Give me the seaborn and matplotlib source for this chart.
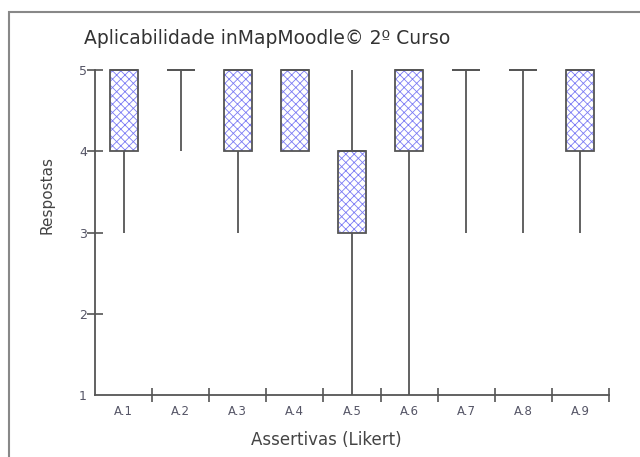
import numpy as np
import pandas as pd
import matplotlib
matplotlib.use("Agg")
import matplotlib.pyplot as plt
import seaborn as sns
from matplotlib.patches import PathPatch, Rectangle

# respostas Likert (1-5) por assertiva
assertivas = ["A.1", "A.2", "A.3", "A.4", "A.5", "A.6", "A.7", "A.8", "A.9"]
a1 = [3, 4, 4, 4, 5, 5, 5, 5, 5, 5]
a2 = [4, 5, 5, 5, 5, 5, 5, 5, 5, 5]
a3 = [3, 3, 4, 4, 5, 5, 5, 5, 5, 5]
a4 = [4, 4, 4, 4, 5, 5, 5, 5, 5, 5]
a5 = [1, 3, 3, 3, 4, 4, 4, 4, 4, 5]
a6 = [1, 4, 4, 4, 5, 5, 5, 5, 5, 5]
a7 = [3, 5, 5, 5, 5, 5, 5, 5, 5, 5]
a8 = [3, 4, 5, 5, 5, 5, 5, 5, 5, 5]
a9 = [3, 4, 4, 4, 5, 5, 5, 5, 5, 5]
respostas = [a1, a2, a3, a4, a5, a6, a7, a8, a9]
y_ticks = [1, 2, 3, 4, 5]

rows = []
for nome, vals in zip(assertivas, respostas):
    for v in vals:
        rows.append({"Assertiva": nome, "Resposta": v})
df = pd.DataFrame(rows)

sns.set_style("white")
plt.rcParams['font.family'] = ['DejaVu Sans']
plt.rcParams['hatch.linewidth'] = 0.6

edge = "#555555"
hatch_blue = "#7c7cf4"

fig = plt.figure(figsize=(6.4, 4.57), dpi=100)
ax = fig.add_axes([0.1484, 0.1357, 0.8031, 0.711])

# whis=(0, 100): bigodes do minimo ao maximo
sns.boxplot(data=df, x="Assertiva", y="Resposta", order=assertivas,
            whis=(0, 100), width=0.49, showcaps=False, color="white",
            linecolor=edge, linewidth=1.3, fliersize=0, ax=ax,
            medianprops={"color": edge, "linewidth": 1.3})

# caixas com hachura azul + contorno cinza
for p in list(ax.patches):
    if isinstance(p, PathPatch):
        outline = PathPatch(p.get_path(), facecolor="none", edgecolor=edge,
                            linewidth=1.3, transform=p.get_transform(),
                            zorder=p.get_zorder() + 0.5, clip_on=False)
        ax.add_patch(outline)
        p.set_facecolor("white")
        p.set_edgecolor(hatch_blue)
        p.set_hatch("xxxx")
        p.set_linewidth(0)
        p.set_clip_on(False)
for ln in ax.lines:
    ln.set_clip_on(False)

ax.set_xlim(-0.5, 8.5)
ax.set_ylim(1, 5)
ax.set_yticks(y_ticks)
ax.set_yticklabels([str(t) for t in y_ticks])
ax.set_xticks(np.arange(0.5, 9, 1.0))
ax.set_xticklabels([])
ax.set_xticks(np.arange(0, 9, 1.0), minor=True)
ax.set_xticklabels(assertivas, minor=True)
ax.tick_params(axis="x", which="major", bottom=True, direction="inout",
               length=10, width=1.2, color=edge)
ax.tick_params(axis="x", which="minor", bottom=False, length=0, pad=7,
               labelsize=8.5, labelcolor="#555566")
ax.tick_params(axis="y", left=True, direction="inout", length=11.5,
               width=1.2, color=edge, labelsize=9, labelcolor="#555566",
               pad=0)
ax.yaxis.get_major_ticks()[0].tick1line.set_visible(False)

for s in ["top", "right"]:
    ax.spines[s].set_visible(False)
for s in ["left", "bottom"]:
    ax.spines[s].set_color(edge)
    ax.spines[s].set_linewidth(1.3)

ax.set_xlabel("")
ax.set_ylabel("")
fig.text(267 / 640, 1 - 38 / 457, "Aplicabilidade inMapMoodle\u00a9 2\u00ba Curso",
         ha="center", va="center", fontsize=13.5, color="#333333")
fig.text(326 / 640, 1 - 440 / 457, "Assertivas (Likert)", ha="center",
         va="center", fontsize=12, color="#444444")
fig.text(47 / 640, 1 - 195 / 457, "Respostas", ha="center", va="center",
         rotation=90, fontsize=11, color="#444444")

# moldura cinza
fig.patches.append(Rectangle((9 / 640, -0.2), 2.0, 0.2 + 1 - 12 / 457,
                             transform=fig.transFigure, fill=False,
                             edgecolor="#888888", linewidth=1.5))

fig.savefig("out.png", dpi=100)
